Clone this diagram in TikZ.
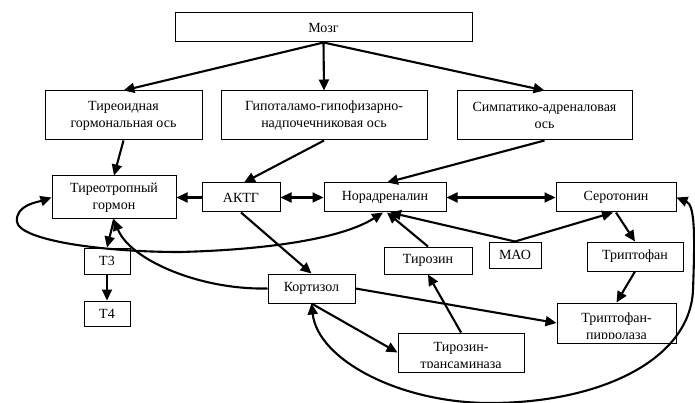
\documentclass[tikz,border=0pt]{standalone}
\usepackage{fontspec}
\setmainfont{Liberation Serif}
\usetikzlibrary{arrows.meta}

\begin{document}
\begin{tikzpicture}[x=1pt,y=-1pt,>={Triangle[length=11pt,width=10pt]},font=\fontsize{14}{17}\selectfont,
  blok/.style={draw,line width=1pt,align=center,inner sep=0pt},
  str/.style={->,line width=2.1pt}]
\useasboundingbox (0,0) rectangle (695,403);
\node[blok,minimum width=297,minimum height=29] (mozg) at (323.5,27.5) {Мозг};
\node[blok,minimum width=157,minimum height=49] (tireo) at (123.5,115.5) {Тиреоидная\\гормональная ось};
\node[blok,minimum width=206,minimum height=49] (gipo) at (324,115.5) {Гипоталамо-гипофизарно-\\надпочечниковая ось};
\node[blok,minimum width=175,minimum height=49] (simp) at (544.5,115.5) {Симпатико-адреналовая\\ось};
\node[blok,minimum width=124,minimum height=43] (ttg) at (114,197.5) {Тиреотропный\\гормон};
\node[blok,minimum width=78,minimum height=29] (aktg) at (241,197.5) {АКТГ};
\node[blok,minimum width=122,minimum height=29] (nor) at (385,197.5) {Норадреналин};
\node[blok,minimum width=120,minimum height=29] (ser) at (616,197.5) {Серотонин};
\node[blok,minimum width=52,minimum height=26] (mao) at (515,255) {МАО};
\node[blok,minimum width=88,minimum height=27] (tir) at (428,260.5) {Тирозин};
\node[blok,minimum width=96,minimum height=29] (trp) at (635,256.5) {Триптофан};
\node[blok,minimum width=87,minimum height=29] (kort) at (311.5,288.5) {Кортизол};
\node[blok,minimum width=46,minimum height=26] (t3) at (107,261) {Т3};
\node[blok,minimum width=46,minimum height=25] (t4) at (107,313.5) {Т4};
\node[blok,minimum width=119,minimum height=40] (tp) at (616.5,323) {};
\node[blok,minimum width=126,minimum height=39] (tt) at (461,352.5) {};
\begin{scope}
\clip (tp.north west) rectangle ([yshift=5pt]tp.south east);
\node[align=center,anchor=base] (tptxt) at (616.5,339) {Триптофан-\\пирролаза};
\end{scope}
\begin{scope}
\clip (tt.north west) rectangle ([yshift=5pt]tt.south east);
\node[align=center,anchor=base] (tttxt) at (461,368.5) {Тирозин-\\трансаминаза};
\end{scope}

\draw[str] (mozg.south) -- (tireo.north);
\draw[str] (mozg.south) -- (gipo.north);
\draw[str] (mozg.south) -- (simp.north);
\draw[str] (tireo.south) -- (ttg.north);
\draw[str] (gipo.south) -- ([xshift=3pt]aktg.north);
\draw[str] (simp.south) -- ([xshift=2pt]nor.north);
\draw[str] (aktg.west) -- (ttg.east);
\draw[str,<->] (aktg.east) -- (nor.west);
\draw[str,<->] (nor.east) -- (ser.west);
\draw[str] (aktg.south) -- (kort.north);
\draw[str] (kort.east) -- (tp.west);
\draw[str] (kort.south) -- (tt.west);
\draw[str] (tt.north) -- (tir.south);
\draw[str] (tir.north) -- ([xshift=2pt]nor.south);
\draw[str] (mao.north) -- ([xshift=5pt]nor.south);
\draw[str] (mao.north) -- ([xshift=-3pt]ser.south);
\draw[str] (ser.south) -- (trp.north);
\draw[str] (trp.south) -- (tp.north);
\draw[str] (ttg.south) -- (t3.north);
\draw[str] (t3.south) -- (t4.north);
\draw[str,<->] ([xshift=-2pt]nor.south) .. controls (340,240) and (260,250) .. (180,252)
  .. controls (100,252) and (20,240) .. (17,222) .. controls (15,205) and (38,202) .. (ttg.west);
\draw[str] (kort.west) .. controls (200,290) and (130,260) .. (ttg.south);
\draw[str,<->] (kort.south) .. controls (318,360) and (400,403) .. (490,403)
  .. controls (600,403) and (690,360) .. (693,290) .. controls (695,235) and (695,205) .. (ser.east);
\end{tikzpicture}
\end{document}
